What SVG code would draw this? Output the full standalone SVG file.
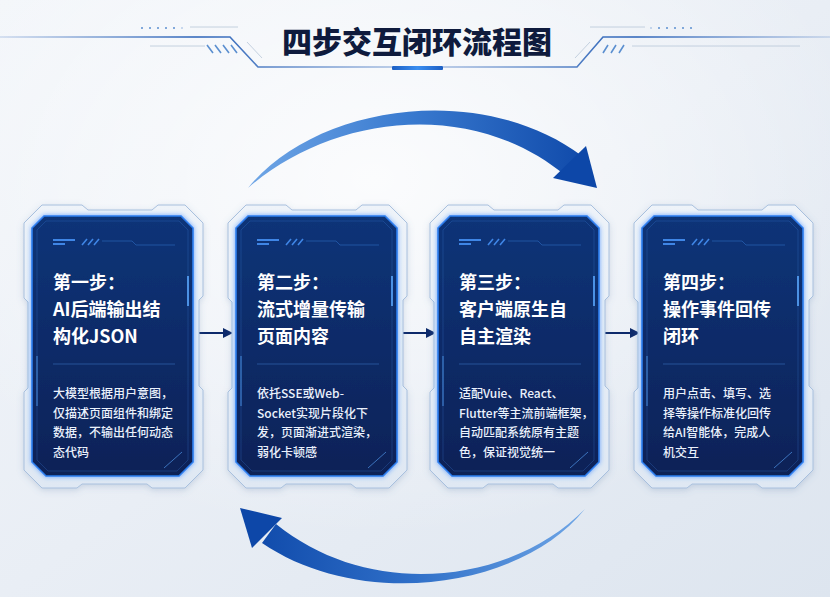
<svg xmlns="http://www.w3.org/2000/svg" width="830" height="597" viewBox="0 0 830 597">
<defs>
<linearGradient id="bg" x1="0" y1="0" x2="1" y2="1">
<stop offset="0" stop-color="#f3f6fa"/><stop offset="0.5" stop-color="#e9eef5"/><stop offset="1" stop-color="#dde5ef"/>
</linearGradient>
<radialGradient id="glow" cx="0.45" cy="0.3" r="0.6">
<stop offset="0" stop-color="#ffffff" stop-opacity="0.8"/><stop offset="1" stop-color="#ffffff" stop-opacity="0"/>
</radialGradient>
<linearGradient id="card" x1="0" y1="0" x2="0" y2="1">
<stop offset="0" stop-color="#0d3478"/><stop offset="0.5" stop-color="#0b2b68"/><stop offset="1" stop-color="#092257"/>
</linearGradient>
<linearGradient id="frame" x1="0" y1="0" x2="0" y2="1">
<stop offset="0" stop-color="#eef3f9"/><stop offset="1" stop-color="#dfe8f3"/>
</linearGradient>
<linearGradient id="arcTop" x1="248" y1="0" x2="597" y2="0" gradientUnits="userSpaceOnUse">
<stop offset="0" stop-color="#6fa6e6"/><stop offset="0.45" stop-color="#3a7bd0"/><stop offset="1" stop-color="#0d47a8"/>
</linearGradient>
<linearGradient id="arcBot" x1="585" y1="0" x2="240" y2="0" gradientUnits="userSpaceOnUse">
<stop offset="0" stop-color="#6fa6e6"/><stop offset="0.5" stop-color="#2f6fc8"/><stop offset="1" stop-color="#0d47a8"/>
</linearGradient>
<linearGradient id="lineL" x1="0" y1="0" x2="392" y2="0" gradientUnits="userSpaceOnUse">
<stop offset="0" stop-color="#2a62b8" stop-opacity="0.2"/><stop offset="0.5" stop-color="#2a62b8"/><stop offset="1" stop-color="#2a62b8" stop-opacity="0.4"/>
</linearGradient>
<linearGradient id="lineR" x1="443" y1="0" x2="830" y2="0" gradientUnits="userSpaceOnUse">
<stop offset="0" stop-color="#2a62b8" stop-opacity="0.4"/><stop offset="0.5" stop-color="#2a62b8"/><stop offset="1" stop-color="#2a62b8" stop-opacity="0.2"/>
</linearGradient>
<linearGradient id="bar" x1="0" y1="0" x2="1" y2="0">
<stop offset="0" stop-color="#1c5fc4"/><stop offset="0.5" stop-color="#3b8ef0"/><stop offset="1" stop-color="#1c5fc4"/>
</linearGradient>
<filter id="shadow" x="-10%" y="-10%" width="120%" height="120%">
<feDropShadow dx="0" dy="2" stdDeviation="3" flood-color="#5a7aa8" flood-opacity="0.25"/>
</filter>
<filter id="cglow" x="-10%" y="-10%" width="120%" height="120%">
<feDropShadow dx="0" dy="0" stdDeviation="2.5" flood-color="#2f7fff" flood-opacity="0.7"/>
</filter>
<marker id="ah" viewBox="0 0 10 10" refX="8" refY="5" markerWidth="5" markerHeight="5" orient="auto">
<path d="M0,0 L10,5 L0,10 Z" fill="#0d2a6b"/>
</marker>
<g id="frameShape">
<path d="M-8,7 L10,-11 L50,-11 L56,-6 L120,-6 L126,-11 L153,-11 L171,7 L171,80 L167,84 L167,170 L171,174 L171,254 L153,272 L120,272 L115,268 L50,268 L45,272 L10,272 L-8,254 L-8,176 L-4,172 L-4,86 L-8,82 Z" fill="url(#frame)" stroke="#a8c0de" stroke-width="1" filter="url(#shadow)"/>
</g>
<g id="cardShape">
<path d="M12,0 L149,0 L161,12 L161,246 L147,260 L14,260 L0,246 L0,12 Z" fill="url(#card)" stroke="#2d7ff0" stroke-width="1.6" filter="url(#cglow)"/>
<path d="M14,5 L147,5 L156,14 L156,244 L145,255 L16,255 L5,244 L5,14 Z" fill="none" stroke="#3b7fd8" stroke-width="0.6" stroke-opacity="0.45"/>
<path d="M21,24 L43,24 M21,28 L33,28" stroke="#3f86e6" stroke-width="2"/>
<path d="M50,29 L55,23 M56,29 L61,23 M62,29 L67,23" stroke="#3f86e6" stroke-width="1.6"/>
<path d="M70,25 L100,25 L104,29 L143,29" fill="none" stroke="#2f6fc8" stroke-width="0.8" stroke-opacity="0.7"/>
<path d="M21,148 L143,148" stroke="#3a74c4" stroke-width="0.8" stroke-opacity="0.7"/>
<path d="M156,60 L156,90" stroke="#5aa8ff" stroke-width="2" stroke-opacity="0.8"/>
<path d="M5,140 L5,190" stroke="#5aa8ff" stroke-width="1.5" stroke-opacity="0.5"/>
<path d="M132,252 L150,236" stroke="#5aa8ff" stroke-width="1" stroke-opacity="0.6"/>
</g>
</defs>
<style>
.title{font-family:"Noto Sans CJK SC","Noto Sans",sans-serif;font-weight:900;font-size:30px;fill:#0f1b3d}
.head{font-family:"Noto Sans CJK SC","Noto Sans",sans-serif;font-weight:700;font-size:18px;fill:#ffffff}
.body{font-family:"Noto Sans CJK SC","Noto Sans",sans-serif;font-weight:500;font-size:12px;fill:#eaf1fc}
.conn{stroke:#0d2a6b;stroke-width:2;fill:none}
</style>
<rect width="830" height="597" fill="url(#bg)"/>
<rect width="830" height="597" fill="url(#glow)"/>

<g id="header">
<path d="M0,37 L230,37 L258,67 L392,67" fill="none" stroke="url(#lineL)" stroke-width="1.6"/>
<path d="M443,67 L577,67 L603,37 L830,37" fill="none" stroke="url(#lineR)" stroke-width="1.6"/>
<path d="M190,27 L238,27 M590,27 L645,27 M150,46 L205,46 M632,46 L800,46" stroke="#b8c6d8" stroke-width="0.8"/>
<path d="M247,42 L262,58 M575,58 L590,42" stroke="#b8c6d8" stroke-width="0.8"/>
<path d="M207,45 L213,53 M215,45 L221,53 M223,45 L229,53 M231,45 L237,53" stroke="#5b8fd0" stroke-width="1.6"/>
<path d="M603,53 L608,45 M611,53 L616,45 M619,53 L624,45" stroke="#5b8fd0" stroke-width="1.6"/>
<g fill="#5b8fd0"><circle cx="142" cy="28" r="1"/><circle cx="150" cy="28" r="1"/><circle cx="158" cy="28" r="1"/><circle cx="166" cy="28" r="1"/><circle cx="174" cy="28" r="1"/><circle cx="182" cy="28" r="1" opacity="0.4"/>
<circle cx="651" cy="28" r="1" opacity="0.4"/><circle cx="659" cy="28" r="1"/><circle cx="667" cy="28" r="1"/><circle cx="675" cy="28" r="1"/><circle cx="683" cy="28" r="1"/><circle cx="691" cy="28" r="1"/></g>
<rect x="392" y="66" width="51" height="4" rx="1" fill="url(#bar)"/>
<text class="title" x="417" y="53" text-anchor="middle">四步交互闭环流程图</text>
</g>

<g id="connectors">
<path d="M248,188 C315,105 480,80 582,156 L566,176 C470,96 330,116 248,188 Z" fill="url(#arcTop)"/>
<path d="M597,188 L553,178 L586,146 Z" fill="#0d47a8"/>
<path d="M585,509 C520,590 360,610 262,543 L276,524 C370,600 510,585 585,509 Z" fill="url(#arcBot)"/>
<path d="M240,508 L282,518 L252,548 Z" fill="#0d47a8"/>
<line class="conn" x1="199" y1="333" x2="231" y2="333" marker-end="url(#ah)"/>
<line class="conn" x1="403" y1="333" x2="434" y2="333" marker-end="url(#ah)"/>
<line class="conn" x1="605" y1="333" x2="638" y2="333" marker-end="url(#ah)"/>
</g>

<g id="step1" transform="translate(32,216)">
<use href="#frameShape"/><use href="#cardShape"/>
<text class="head" x="21" y="73">第一步：</text>
<text class="head" x="21" y="100">AI后端输出结</text>
<text class="head" x="21" y="127">构化JSON</text>
<text class="body" x="21" y="182">大模型根据用户意图，</text>
<text class="body" x="21" y="202">仅描述页面组件和绑定</text>
<text class="body" x="21" y="221">数据，不输出任何动态</text>
<text class="body" x="21" y="241">态代码</text>
</g>

<g id="step2" transform="translate(236,216)">
<use href="#frameShape"/><use href="#cardShape"/>
<text class="head" x="21" y="73">第二步：</text>
<text class="head" x="21" y="100">流式增量传输</text>
<text class="head" x="21" y="127">页面内容</text>
<text class="body" x="21" y="182">依托SSE或Web-</text>
<text class="body" x="21" y="202">Socket实现片段化下</text>
<text class="body" x="21" y="221">发，页面渐进式渲染，</text>
<text class="body" x="21" y="241">弱化卡顿感</text>
</g>

<g id="step3" transform="translate(438,216)">
<use href="#frameShape"/><use href="#cardShape"/>
<text class="head" x="21" y="73">第三步：</text>
<text class="head" x="21" y="100">客户端原生自</text>
<text class="head" x="21" y="127">自主渲染</text>
<text class="body" x="21" y="182">适配Vuie、React、</text>
<text class="body" x="21" y="202">Flutter等主流前端框架，</text>
<text class="body" x="21" y="221">自动匹配系统原有主题</text>
<text class="body" x="21" y="241">色，保证视觉统一</text>
</g>

<g id="step4" transform="translate(642,216)">
<use href="#frameShape"/><use href="#cardShape"/>
<text class="head" x="21" y="73">第四步：</text>
<text class="head" x="21" y="100">操作事件回传</text>
<text class="head" x="21" y="127">闭环</text>
<text class="body" x="21" y="182">用户点击、填写、选</text>
<text class="body" x="21" y="202">择等操作标准化回传</text>
<text class="body" x="21" y="221">给AI智能体，完成人</text>
<text class="body" x="21" y="241">机交互</text>
</g>
</svg>
